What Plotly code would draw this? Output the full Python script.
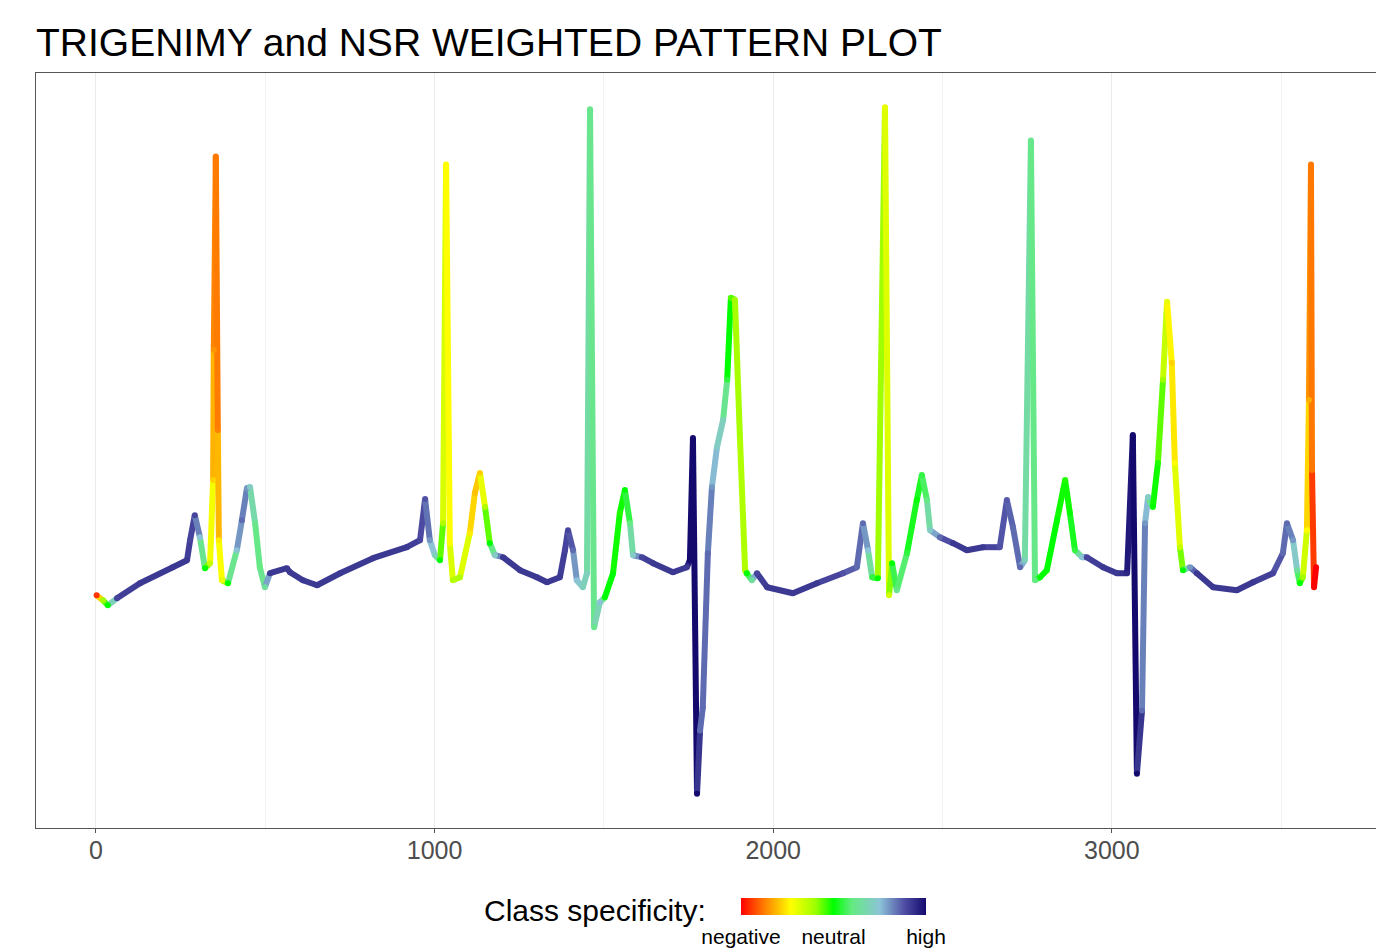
import plotly.graph_objects as go
from plotly.colors import sample_colorscale

# ---- data (sample index, amplitude, class specificity 0=negative .. 1=high)
sample_idx = [2, 21, 35, 62, 130, 227, 269, 278, 292, 307, 322, 337, 346, 348, 354, 360, 363, 372, 390,
              416, 431, 446, 455, 470, 484, 499, 514, 564, 573, 611, 653, 721, 818, 918, 957, 972, 986,
              1001, 1016, 1025, 1034, 1045, 1054, 1075, 1104, 1119, 1134, 1149, 1163, 1178, 1202, 1252,
              1302, 1332, 1370, 1385, 1394, 1409, 1420, 1438, 1450, 1459, 1471, 1488, 1503, 1527, 1547,
              1562, 1577, 1586, 1612, 1645, 1704, 1745, 1754, 1763, 1775, 1784, 1792, 1807, 1819, 1834,
              1852, 1864, 1875, 1887, 1902, 1917, 1922, 1937, 1952, 1982, 2058, 2129, 2206, 2247, 2265,
              2280, 2292, 2309, 2330, 2342, 2351, 2365, 2395, 2424, 2439, 2454, 2463, 2492, 2531, 2572,
              2619, 2669, 2690, 2708, 2729, 2743, 2761, 2773, 2788, 2808, 2838, 2862, 2876, 2891, 2912,
              2926, 2974, 3015, 3045, 3062, 3074, 3089, 3098, 3107, 3121, 3136, 3151, 3163, 3177, 3186,
              3201, 3210, 3231, 3251, 3299, 3369, 3417, 3476, 3505, 3517, 3535, 3547, 3555, 3564, 3576,
              3582, 3588, 3591, 3597, 3603]
amplitude = [-0.12, -0.17, -0.22, -0.15, 0.00, 0.16, 0.23, 0.43, 0.68, 0.46, 0.15, 0.20, 1.03, 2.33, 4.26,
             1.53, 0.43, 0.03, 0.00, 0.33, 0.63, 0.95, 0.96, 0.60, 0.16, -0.04, 0.10, 0.15, 0.11, 0.03,
             -0.02, 0.10, 0.25, 0.36, 0.43, 0.84, 0.43, 0.28, 0.23, 0.60, 4.18, 0.40, 0.03, 0.06, 0.50,
             0.90, 1.10, 0.76, 0.40, 0.28, 0.26, 0.13, 0.06, 0.01, 0.06, 0.33, 0.53, 0.33, 0.03, -0.04,
             0.10, 4.73, -0.44, -0.19, -0.14, 0.10, 0.70, 0.93, 0.60, 0.28, 0.26, 0.20, 0.11, 0.16, 0.23,
             1.45, -2.10, -1.47, -1.24, 0.30, 0.96, 1.36, 1.63, 2.03, 2.85, 2.83, 1.43, 0.13, 0.10, 0.03,
             0.10, -0.04, -0.10, 0.00, 0.10, 0.16, 0.60, 0.33, 0.06, 0.05, 4.75, -0.12, 0.20, -0.07, 0.30,
             0.83, 1.08, 0.83, 0.53, 0.46, 0.40, 0.33, 0.36, 0.36, 0.83, 0.56, 0.16, 0.23, 4.42, 0.03,
             0.06, 0.13, 0.63, 1.03, 0.70, 0.33, 0.26, 0.26, 0.16, 0.10, 0.10, 1.48, -1.90, -1.27, 0.60,
             0.86, 0.76, 1.20, 2.03, 2.81, 2.20, 1.20, 0.36, 0.13, 0.16, 0.10, -0.04, -0.07, 0.01, 0.10,
             0.30, 0.60, 0.43, 0.13, 0.00, 0.06, 0.53, 1.83, 4.18, 1.13, -0.04, 0.16]
specificity = [0.05, 0.40, 0.50, 0.90, 0.92, 0.92, 0.92, 0.90, 0.90, 0.75, 0.50, 0.35, 0.22, 0.15, 0.12,
               0.13, 0.25, 0.30, 0.50, 0.75, 0.85, 0.80, 0.72, 0.62, 0.60, 0.65, 0.92, 0.92, 0.92, 0.92,
               0.92, 0.92, 0.92, 0.92, 0.90, 0.88, 0.80, 0.70, 0.50, 0.38, 0.27, 0.27, 0.37, 0.38, 0.25,
               0.20, 0.22, 0.38, 0.50, 0.72, 0.92, 0.92, 0.92, 0.92, 0.92, 0.90, 0.90, 0.85, 0.75, 0.70,
               0.70, 0.62, 0.62, 0.75, 0.50, 0.50, 0.48, 0.50, 0.60, 0.72, 0.90, 0.92, 0.92, 0.92, 1.00,
               1.00, 1.00, 0.85, 0.85, 0.85, 0.80, 0.72, 0.70, 0.55, 0.45, 0.40, 0.38, 0.38, 0.50, 0.65,
               0.90, 0.92, 0.92, 0.92, 0.88, 0.85, 0.85, 0.75, 0.55, 0.50, 0.30, 0.33, 0.50, 0.62, 0.55,
               0.50, 0.55, 0.60, 0.72, 0.85, 0.92, 0.92, 0.92, 0.88, 0.87, 0.85, 0.85, 0.70, 0.62, 0.60,
               0.50, 0.50, 0.50, 0.48, 0.50, 0.55, 0.75, 0.90, 0.92, 0.92, 0.95, 1.00, 1.00, 0.85, 0.80,
               0.72, 0.50, 0.48, 0.40, 0.30, 0.22, 0.27, 0.35, 0.50, 0.80, 0.92, 0.92, 0.92, 0.92, 0.90,
               0.85, 0.85, 0.80, 0.65, 0.50, 0.40, 0.27, 0.18, 0.12, 0.12, 0.00, 0.00]

x_ticks = [0, 1000, 2000, 3000]
x_minor = [500, 1500, 2500, 3500]
legend_ticks = [0, 0.5, 1]
legend_labels = ["negative", "neutral", "high"]

CS = [[0.0, "rgb(255,0,0)"], [0.12, "rgb(255,120,0)"], [0.27, "rgb(255,255,0)"],
      [0.40, "rgb(160,255,0)"], [0.50, "rgb(0,255,0)"], [0.60, "rgb(100,235,130)"],
      [0.75, "rgb(140,195,215)"], [0.88, "rgb(80,80,165)"], [1.0, "rgb(20,10,110)"]]

FONT = "Liberation Sans, Arial, Helvetica, sans-serif"
LW = 6

fig = go.Figure()
n = len(sample_idx)
for i in range(n - 1):
    c = (specificity[i] + specificity[i + 1]) / 2
    col = sample_colorscale(CS, [c])[0]
    fig.add_trace(go.Scatter(x=[sample_idx[i], sample_idx[i + 1]],
                             y=[amplitude[i], amplitude[i + 1]],
                             mode="lines", line=dict(color=col, width=LW),
                             hoverinfo="skip", showlegend=False))

fig.add_trace(go.Scatter(
    x=sample_idx, y=amplitude, mode="markers", showlegend=False, hoverinfo="skip",
    marker=dict(size=LW, color=specificity, colorscale=CS, cmin=0, cmax=1,
                line=dict(width=0), showscale=True,
                colorbar=dict(orientation="h", x=(833.5 - 36) / 1340, xanchor="center",
                              y=(828 - 898) / 755, yanchor="top", lenmode="pixels", len=185,
                              thickness=17, outlinewidth=0,
                              ticks="outside", ticklen=4, tickcolor="rgba(0,0,0,0)",
                              tickvals=legend_ticks, ticktext=legend_labels,
                              tickfont=dict(family=FONT, size=21, color="#000000"),
                              xpad=0, ypad=0))))

fig.add_annotation(text="Class specificity:", xref="paper", yref="paper",
                   x=(708 - 36) / 1340, y=(828 - 910) / 755, xanchor="right", yanchor="middle",
                   showarrow=False, font=dict(family=FONT, size=30, color="#000000"))

fig.update_layout(
    width=1376, height=952,
    margin=dict(l=36, r=0, t=73, b=124, autoexpand=False),
    paper_bgcolor="white", plot_bgcolor="white",
    title=dict(text="TRIGENIMY and NSR WEIGHTED PATTERN PLOT", x=36 / 1376, xanchor="left",
               xref="container", y=1 - 42 / 952, yanchor="middle", yref="container",
               font=dict(family=FONT, size=39, color="#000000")),
    xaxis=dict(range=[-177, 3780], tickvals=x_ticks, ticktext=[str(v) for v in x_ticks],
               showgrid=True, gridcolor="#EBEBEB", gridwidth=1.2,
               minor=dict(tickvals=x_minor, showgrid=True, gridcolor="#F2F2F2", gridwidth=0.7),
               zeroline=False, showline=True, linecolor="#555555", linewidth=1, mirror=True,
               ticks="outside", ticklen=4, tickcolor="#555555", tickwidth=1,
               ticklabelstandoff=-4, automargin=False,
               tickfont=dict(family=FONT, size=25, color="#4D4D4D")),
    yaxis=dict(range=[-2.4425, 5.0925], showticklabels=False, ticks="", showgrid=False,
               automargin=False,
               zeroline=False, showline=True, linecolor="#555555", linewidth=1, mirror=True),
)

fig.write_html("out.html", post_script="document.body.style.margin='0';",
               config={"displayModeBar": False})
